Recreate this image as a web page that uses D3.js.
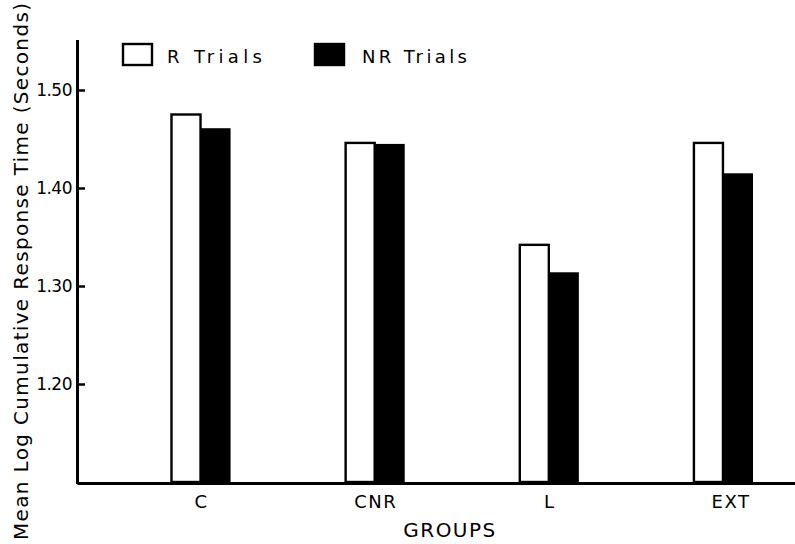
<!DOCTYPE html>
<html>
<head>
<meta charset="utf-8">
<script src="https://cdn.jsdelivr.net/npm/d3@7"></script>
<style>
  html, body { margin: 0; padding: 0; background: #fff; }
  svg { display: block; }
  text { font-family: "DejaVu Sans", "Liberation Sans", sans-serif; fill: #000; }
</style>
</head>
<body>
<svg id="chart" width="795" height="544"></svg>
<script>
// ---- data ----
const groups = ["C", "CNR", "L", "EXT"];
const seriesNames = ["R Trials", "NR Trials"];
const rTrials = [1.475, 1.446, 1.342, 1.446];
const nrTrials = [1.461, 1.445, 1.314, 1.415];
const yTicks = [1.20, 1.30, 1.40, 1.50];
const yDomain = [1.10, 1.55];

const FONT = "DejaVu Sans, Liberation Sans, sans-serif";
const svg = d3.select("#chart");
const W = 795, H = 544;
const axisX = 77, axisY = 483;

const y = d3.scaleLinear().domain(yDomain).range([482, 41]);
const x = d3.scaleBand().domain(groups).range([axisX, W])
  .paddingInner(0.655).paddingOuter(0.389).align(0.69);
const xs = d3.scaleBand().domain(["R", "NR"]).range([0, x.bandwidth()]);

const rows = groups.map((g, i) => ({ g, R: rTrials[i], NR: nrTrials[i] }));

// bars
const gb = svg.append("g");
rows.forEach(d => {
  gb.append("rect")
    .attr("x", x(d.g) + xs("NR"))
    .attr("y", y(d.NR))
    .attr("width", xs.bandwidth())
    .attr("height", y(yDomain[0]) - y(d.NR))
    .attr("fill", "#000");
  gb.append("rect")
    .attr("x", x(d.g) + xs("R") + 1)
    .attr("y", y(d.R))
    .attr("width", xs.bandwidth() - 1)
    .attr("height", y(yDomain[0]) - y(d.R))
    .attr("fill", "#fff")
    .attr("stroke", "#000")
    .attr("stroke-width", 2.4);
});

// y axis
const yAxis = svg.append("g")
  .attr("transform", `translate(${axisX},0)`)
  .call(d3.axisLeft(y).tickValues(yTicks).tickFormat(d3.format(".2f"))
    .tickSize(-8).tickSizeOuter(0).tickPadding(5));
yAxis.select(".domain").attr("stroke", "#000").attr("stroke-width", 3).attr("stroke-linecap", "square");
yAxis.selectAll(".tick line").attr("stroke", "#000").attr("stroke-width", 2.5);
yAxis.selectAll(".tick text").style("font-size", "17px").attr("fill", "#000")
  .attr("font-family", FONT).attr("letter-spacing", "-0.5px");

// x axis
const xAxis = svg.append("g")
  .attr("transform", `translate(0,${axisY})`)
  .call(d3.axisBottom(x).tickSize(0).tickSizeOuter(0).tickPadding(12));
xAxis.select(".domain").attr("stroke", "#000").attr("stroke-width", 3);
xAxis.selectAll(".tick text").style("font-size", "18px").attr("fill", "#000")
  .attr("font-family", FONT)
  .attr("letter-spacing", "1.5px")
  .attr("dx", d => d === "EXT" ? 8 : 1);

// axis titles
svg.append("text")
  .attr("x", 450).attr("y", 537)
  .attr("text-anchor", "middle")
  .style("font-size", "20px")
  .attr("letter-spacing", "1.5px")
  .text("GROUPS");

svg.append("text")
  .attr("transform", "translate(28,271.5) rotate(-90)")
  .attr("text-anchor", "middle")
  .style("font-size", "20px")
  .attr("textLength", 537)
  .attr("lengthAdjust", "spacing")
  .text("Mean Log Cumulative Response Time (Seconds)");

// legend
const legend = [
  { name: seriesNames[0], fill: "#fff", bx: 123, tx: 167, tl: 95 },
  { name: seriesNames[1], fill: "#000", bx: 315, tx: 362, tl: 105 }
];
legend.forEach(l => {
  svg.append("rect")
    .attr("x", l.bx).attr("y", 44).attr("width", 29).attr("height", 21)
    .attr("fill", l.fill).attr("stroke", "#000").attr("stroke-width", 2.4);
  svg.append("text")
    .attr("x", l.tx).attr("y", 63)
    .style("font-size", "18px")
    .attr("textLength", l.tl)
    .attr("lengthAdjust", "spacing")
    .text(l.name);
});
</script>
</body>
</html>
